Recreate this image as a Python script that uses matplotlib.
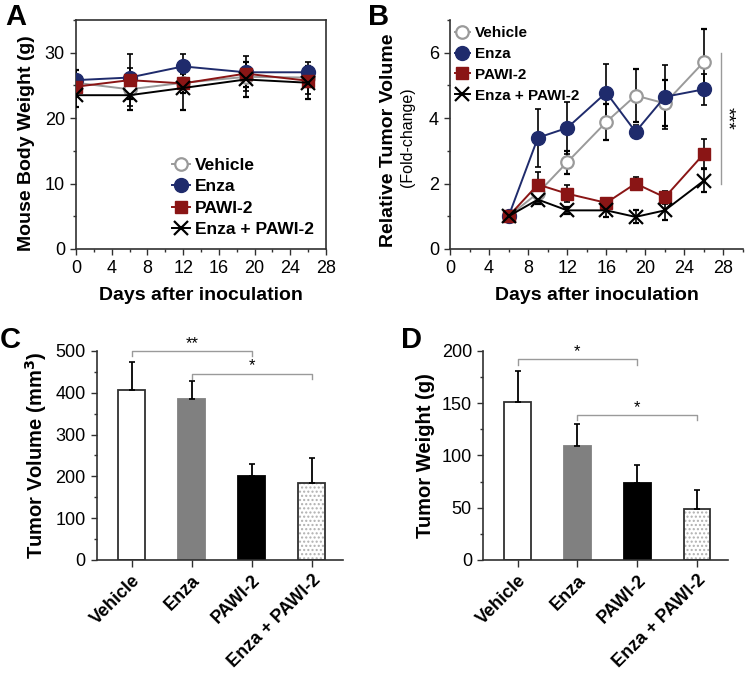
import numpy as np
import matplotlib
matplotlib.use("Agg")
import matplotlib.pyplot as plt
from matplotlib.ticker import MultipleLocator

plt.rcParams["font.family"] = ["Liberation Sans", "DejaVu Sans"]

# ── data ─────────────────────────────────────────────────────────────────────
groups = ["Vehicle", "Enza", "PAWI-2", "Enza + PAWI-2"]

# A: body weight
days_a = [0, 6, 12, 19, 26]
bw_vehicle = [25.4, 24.4, 25.4, 26.3, 26.2]
bw_vehicle_err = [2.0, 1.5, 1.5, 1.5, 1.5]
bw_enza = [25.8, 26.2, 27.9, 27.0, 27.0]
bw_enza_err = [1.5, 1.5, 1.9, 1.5, 1.5]
bw_pawi = [24.8, 25.8, 25.3, 26.8, 25.7]
bw_pawi_err = [1.5, 4.0, 1.5, 2.7, 2.0]
bw_combo = [23.5, 23.5, 24.6, 25.9, 25.4]
bw_combo_err = [1.8, 2.2, 3.4, 2.6, 2.5]

# B: relative tumor volume
days_b = [6, 9, 12, 16, 19, 22, 26]
tv_vehicle = [1.0, 1.71, 2.65, 3.88, 4.69, 4.45, 5.72]
tv_vehicle_err = [0.05, 0.2, 0.35, 0.55, 0.8, 0.7, 1.0]
tv_enza = [1.0, 3.40, 3.70, 4.78, 3.58, 4.65, 4.88]
tv_enza_err = [0.05, 0.88, 0.8, 0.88, 0.2, 0.97, 0.48]
tv_pawi = [1.0, 1.97, 1.69, 1.41, 2.0, 1.58, 2.91]
tv_pawi_err = [0.05, 0.38, 0.25, 0.1, 0.2, 0.2, 0.45]
tv_combo = [1.0, 1.51, 1.18, 1.18, 0.98, 1.18, 2.09]
tv_combo_err = [0.05, 0.15, 0.1, 0.2, 0.2, 0.3, 0.35]

# C: tumor volume (mm3)
vol = [407, 385, 200, 185]
vol_err = [66, 43, 30, 58]

# D: tumor weight (g)
wt = [151, 109, 74, 49]
wt_err = [30, 21, 17, 18]

# ── styles ───────────────────────────────────────────────────────────────────
NAVY = "#1F2B6C"
RED = "#8A1515"
GREY = "#9A9A9A"
AX = "#303030"

line_styles = [
    dict(color=GREY, marker="o", mfc="white", mec=GREY, ms=9, mew=1.6),
    dict(color=NAVY, marker="o", mfc=NAVY, mec=NAVY, ms=10),
    dict(color=RED, marker="s", mfc=RED, mec=RED, ms=9),
    dict(color="black", marker="x", mfc="black", mec="black", ms=10, mew=1.6),
]

fig = plt.figure(figsize=(7.46, 6.76), dpi=100)


def style_ticks(ax):
    ax.tick_params(axis="both", which="major", direction="out", length=4.5,
                   width=1, labelsize=13, colors=AX, labelcolor="black")
    ax.tick_params(axis="both", which="minor", direction="out", length=2.5,
                   width=1, colors=AX)
    for sp in ax.spines.values():
        sp.set_color(AX)
        sp.set_linewidth(1.2)


def line_panel(ax, x, series, errs):
    for ys, es, st in zip(series, errs, line_styles):
        ax.errorbar(x, ys, yerr=es, ecolor="black", elinewidth=1.2, capsize=2,
                    capthick=1.2, lw=1.4, label=None, zorder=3, **st)
    handles = [ax.plot([], [], lw=1.4, **st)[0] for st in line_styles]
    return handles


# ── A ────────────────────────────────────────────────────────────────────────
axA = fig.add_axes([0.1019, 0.6317, 0.3351, 0.3388])
hA = line_panel(axA, days_a, [bw_vehicle, bw_enza, bw_pawi, bw_combo],
                [bw_vehicle_err, bw_enza_err, bw_pawi_err, bw_combo_err])
axA.set_xlim(0, 28)
axA.set_ylim(0, 35)
axA.set_xticks(range(0, 29, 4))
axA.set_yticks([0, 10, 20, 30])
axA.xaxis.set_minor_locator(MultipleLocator(2))
axA.yaxis.set_minor_locator(MultipleLocator(5))
style_ticks(axA)
axA.tick_params(top=False, right=False, which="both")
axA.set_xlabel("Days after inoculation", fontsize=14, fontweight="bold", labelpad=7)
axA.set_ylabel("Mouse Body Weight (g)", fontsize=14, fontweight="bold")
axA.yaxis.set_label_coords(-0.165, 0.46)
axA.legend(hA, groups, loc="lower right", bbox_to_anchor=(1.0, 0.0), frameon=False,
           prop=dict(weight="bold", size=12.5), handlelength=1.0, handletextpad=0.3,
           labelspacing=0.35, borderaxespad=0.3)

# ── B ────────────────────────────────────────────────────────────────────────
axB = fig.add_axes([0.6032, 0.6317, 0.3928, 0.3388])
hB = line_panel(axB, days_b, [tv_vehicle, tv_enza, tv_pawi, tv_combo],
                [tv_vehicle_err, tv_enza_err, tv_pawi_err, tv_combo_err])
axB.set_xlim(0, 30)
axB.set_ylim(0, 7)
axB.set_xticks(range(0, 29, 4))
axB.set_yticks([0, 2, 4, 6])
axB.xaxis.set_minor_locator(MultipleLocator(2))
axB.yaxis.set_minor_locator(MultipleLocator(1))
axB.spines["top"].set_visible(False)
axB.spines["right"].set_visible(False)
style_ticks(axB)
axB.set_xlabel("Days after inoculation", fontsize=14, fontweight="bold", labelpad=7)
axB.text(-0.21, 0.475, "Relative Tumor Volume", transform=axB.transAxes, rotation=90,
         ha="center", va="center", fontsize=14, fontweight="bold")
axB.text(-0.145, 0.49, "(Fold-change)", transform=axB.transAxes, rotation=90,
         ha="center", va="center", fontsize=11.5)
axB.legend(hB, groups, loc="upper left", bbox_to_anchor=(-0.02, 1.02), frameon=False,
           prop=dict(weight="bold", size=11), handlelength=1.0, handletextpad=0.3,
           labelspacing=0.45, borderaxespad=0.3)
axB.plot([27.7, 27.7], [2.0, 6.0], color=GREY, lw=1.0)
axB.text(28.3, 4.0, "***", rotation=-90, ha="center", va="center", fontsize=14)

# ── C / D bar panels ─────────────────────────────────────────────────────────
bar_faces = ["white", "#808080", "black", "white"]
bar_edges = [AX, "#808080", "black", AX]


def bar_panel(ax, vals, errs):
    x = np.arange(len(vals))
    for i in range(len(vals)):
        if i == 3:
            ax.bar(x[i], vals[i], width=0.45, color="white", edgecolor="#B0B0B0",
                   hatch="....", lw=0, zorder=2)
            ax.bar(x[i], vals[i], width=0.45, fill=False, edgecolor=AX, lw=1.3, zorder=3)
        else:
            ax.bar(x[i], vals[i], width=0.45, color=bar_faces[i],
                   edgecolor=bar_edges[i], lw=1.3, zorder=2)
    ax.errorbar(x, vals, yerr=[[0] * len(vals), errs], fmt="none", ecolor="black",
                elinewidth=1.3, capsize=2, capthick=1.2, zorder=4)
    ax.set_xlim(-0.58, 3.52)
    ax.set_xticks(x)
    ax.set_xticklabels(groups, rotation=45, ha="right", rotation_mode="anchor",
                       fontsize=13, fontweight="bold")
    ax.spines["top"].set_visible(False)
    ax.spines["right"].set_visible(False)
    style_ticks(ax)
    ax.tick_params(axis="x", which="major", length=5, labelsize=13)
    return x


def bracket(ax, x0, x1, y, h, label):
    ax.plot([x0, x0, x1, x1], [y - h, y, y, y - h], color=GREY, lw=1.0, clip_on=False)
    ax.text((x0 + x1) / 2, y, label, ha="center", va="bottom", fontsize=12)


axC = fig.add_axes([0.130, 0.1716, 0.3298, 0.3092])
bar_panel(axC, vol, vol_err)
axC.set_ylim(0, 500)
axC.set_yticks(range(0, 501, 100))
axC.yaxis.set_minor_locator(MultipleLocator(50))
axC.set_ylabel("Tumor Volume (mm$^\\mathbf{3}$)", fontsize=14.5, fontweight="bold", labelpad=5)
bracket(axC, 0, 2, 500, 12, "**")
bracket(axC, 1, 3, 446, 12, "*")

axD = fig.add_axes([0.6475, 0.1716, 0.3284, 0.3092])
bar_panel(axD, wt, wt_err)
axD.set_ylim(0, 200)
axD.set_yticks(range(0, 201, 50))
axD.yaxis.set_minor_locator(MultipleLocator(25))
axD.set_ylabel("Tumor Weight (g)", fontsize=14.5, fontweight="bold", labelpad=5)
bracket(axD, 0, 2, 192, 5, "*")
bracket(axD, 1, 3, 139, 5, "*")

# ── panel letters ────────────────────────────────────────────────────────────
for lbl, x, y in [("A", 0.007, 0.995), ("B", 0.493, 0.995),
                  ("C", 0.0, 0.518), ("D", 0.538, 0.518)]:
    fig.text(x, y, lbl, fontsize=21, fontweight="bold", ha="left", va="top")

fig.savefig("out.png", dpi=100)
